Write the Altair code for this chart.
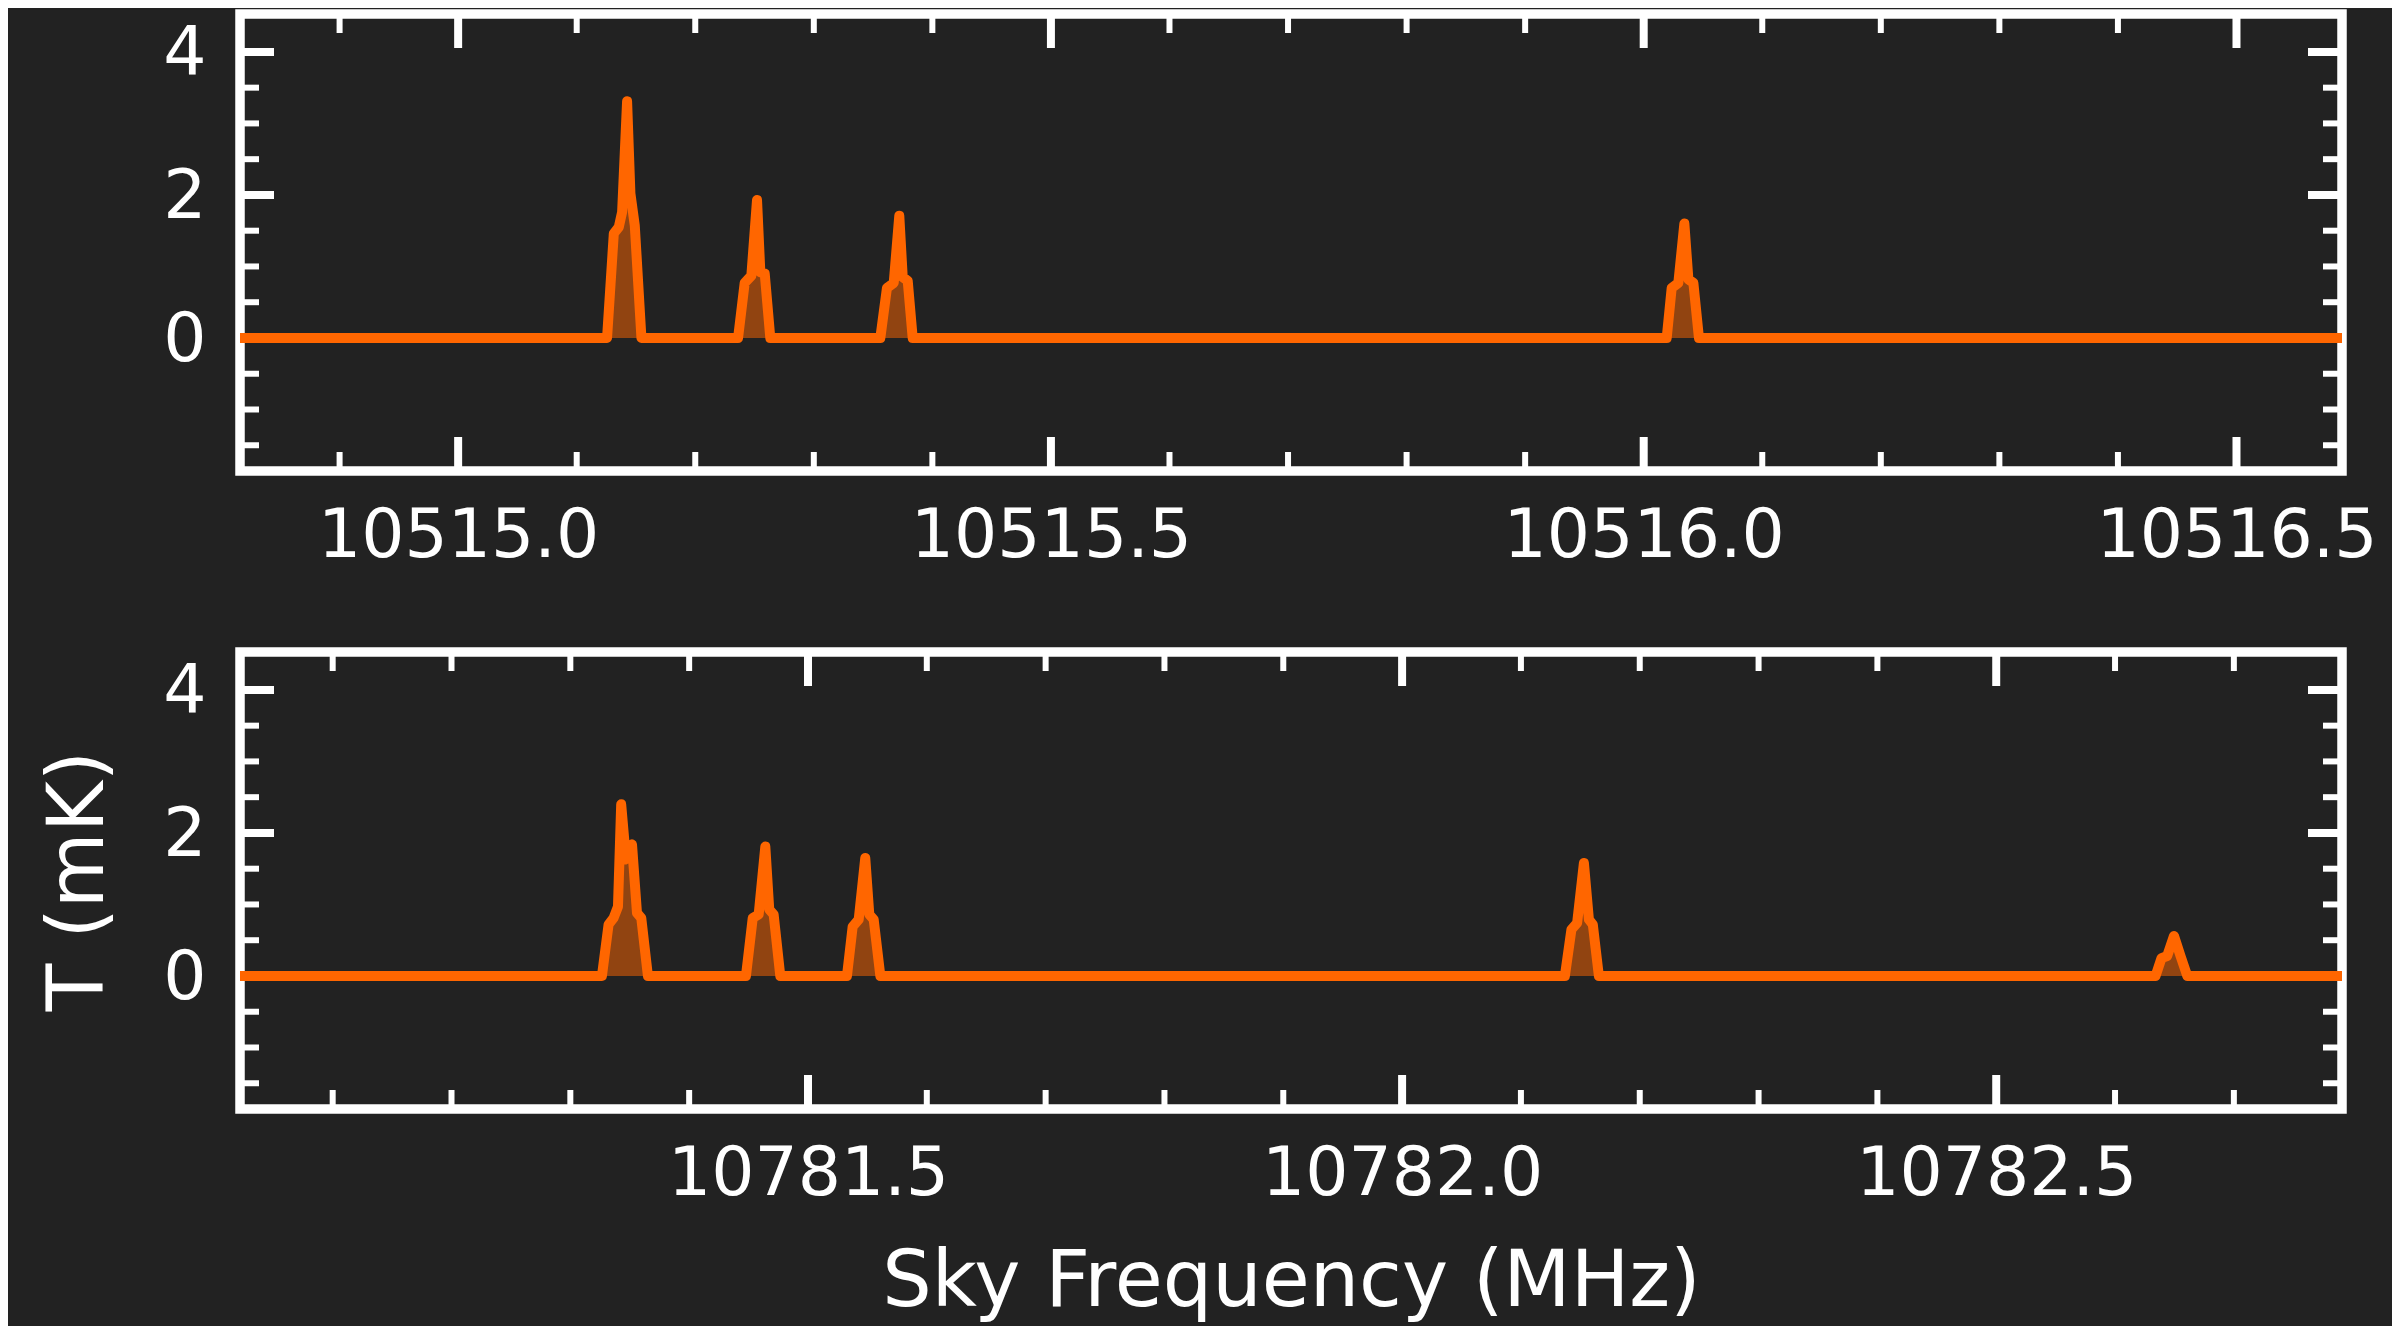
import altair as alt
import pandas as pd

# ---------------- data ----------------
# top panel spectrum (sky frequency in MHz, temperature in mK)
top_freq = [10514.80,
            10515.1256, 10515.1313, 10515.1355, 10515.1383, 10515.1425, 10515.1453, 10515.1490, 10515.1546,
            10515.2361, 10515.2417, 10515.2473, 10515.2521, 10515.2549, 10515.2586, 10515.2633,
            10515.3561, 10515.3617, 10515.3674, 10515.3721, 10515.3750, 10515.3792, 10515.3834,
            10516.0194, 10516.0236, 10516.0292, 10516.0343, 10516.0377, 10516.0419, 10516.0466,
            10516.60]
top_temp = [0.0,
            0.0, 1.46, 1.55, 1.76, 3.31, 2.02, 1.57, 0.0,
            0.0, 0.77, 0.87, 1.93, 0.92, 0.90, 0.0,
            0.0, 0.70, 0.77, 1.71, 0.85, 0.80, 0.0,
            0.0, 0.70, 0.77, 1.60, 0.82, 0.77, 0.0,
            0.0]

# bottom panel spectrum
bot_freq = [10781.00,
            10781.3266, 10781.3322, 10781.3364, 10781.3401, 10781.3428, 10781.3468, 10781.3519, 10781.3561, 10781.3597, 10781.3653,
            10781.4478, 10781.4535, 10781.4585, 10781.4641, 10781.4674, 10781.4711, 10781.4767,
            10781.5328, 10781.5376, 10781.5427, 10781.5482, 10781.5516, 10781.5553, 10781.5609,
            10782.1370, 10782.1425, 10782.1473, 10782.1530, 10782.1572, 10782.1605, 10782.1656,
            10782.6341, 10782.6391, 10782.6439, 10782.6496, 10782.6551, 10782.6608,
            10782.80]
bot_temp = [0.0,
            0.0, 0.72, 0.81, 0.97, 2.40, 1.63, 1.84, 0.88, 0.81, 0.0,
            0.0, 0.81, 0.86, 1.81, 0.93, 0.86, 0.0,
            0.0, 0.69, 0.79, 1.65, 0.86, 0.79, 0.0,
            0.0, 0.65, 0.74, 1.58, 0.79, 0.72, 0.0,
            0.0, 0.25, 0.28, 0.56, 0.28, 0.0,
            0.0]

# axis domains and ticks
top_xdomain = [10514.816, 10516.589]
bot_xdomain = [10781.022, 10782.791]
ydomain = [-1.86, 4.53]

top_major_x = [10515.0, 10515.5, 10516.0, 10516.5]
top_minor_x = [10514.9, 10515.1, 10515.2, 10515.3, 10515.4, 10515.6, 10515.7, 10515.8, 10515.9,
               10516.1, 10516.2, 10516.3, 10516.4]
bot_major_x = [10781.5, 10782.0, 10782.5]
bot_minor_x = [10781.1, 10781.2, 10781.3, 10781.4, 10781.6, 10781.7, 10781.8, 10781.9,
               10782.1, 10782.2, 10782.3, 10782.4, 10782.6, 10782.7]
major_y = [0, 2, 4]
minor_y = [-1.5, -1.0, -0.5, 0.5, 1.0, 1.5, 2.5, 3.0, 3.5]

x_title = "Sky Frequency (MHz)"
y_title = "T (mK)"

# ---------------- styling ----------------
W, H = 2102, 457
LINE = "#ff6600"
BG = "#222222"
MAJ_LEN, MIN_LEN = 34, 19
MAJ_W, MIN_W = 8, 6


def panel(freqs, temps, xdomain, major_x, minor_x, xtitle, ytitle):
    spec = pd.DataFrame({"f": freqs, "T": temps})
    xaxis_kw = dict(values=major_x, format=".1f", labelPadding=31)
    yaxis_kw = dict(values=major_y, format="d", labelPadding=34, titlePadding=44, labelOffset=3)
    if xtitle:
        xaxis_kw["title"] = xtitle
        xaxis_kw["titlePadding"] = 35
    else:
        xaxis_kw["title"] = None
    yaxis_kw["title"] = ytitle if ytitle else None
    x = alt.X("f:Q", scale=alt.Scale(domain=xdomain, nice=False, zero=False),
              axis=alt.Axis(**xaxis_kw))
    y = alt.Y("T:Q", scale=alt.Scale(domain=ydomain, nice=False, zero=False),
              axis=alt.Axis(**yaxis_kw))

    layers = []
    # x ticks (top and bottom, pointing inward)
    for vals, ln, sw in ((major_x, MAJ_LEN, MAJ_W), (minor_x, MIN_LEN, MIN_W)):
        d = pd.DataFrame({"f": vals})
        layers.append(alt.Chart(d).mark_rule(color="white", strokeWidth=sw).encode(
            x=x, y=alt.value(0), y2=alt.value(ln)))
        layers.append(alt.Chart(d).mark_rule(color="white", strokeWidth=sw).encode(
            x=x, y=alt.value(H), y2=alt.value(H - ln)))
    # y ticks (left and right, pointing inward)
    for vals, ln, sw in ((major_y, MAJ_LEN, MAJ_W), (minor_y, MIN_LEN, MIN_W)):
        d = pd.DataFrame({"T": vals})
        layers.append(alt.Chart(d).mark_rule(color="white", strokeWidth=sw).encode(
            y=y, x=alt.value(0), x2=alt.value(ln)))
        layers.append(alt.Chart(d).mark_rule(color="white", strokeWidth=sw).encode(
            y=y, x=alt.value(W), x2=alt.value(W - ln)))

    area = alt.Chart(spec).mark_area(color=LINE, opacity=0.5, clip=True).encode(
        x=x, y=y, y2=alt.datum(0))
    line = alt.Chart(spec).mark_line(color=LINE, strokeWidth=10, strokeJoin="round",
                                     strokeCap="round", clip=True).encode(x=x, y=y)
    layers += [area, line]
    return alt.layer(*layers).properties(width=W, height=H)


top = panel(top_freq, top_temp, top_xdomain, top_major_x, top_minor_x, None, None)
bottom = panel(bot_freq, bot_temp, bot_xdomain, bot_major_x, bot_minor_x, x_title, y_title)

chart = alt.vconcat(top, bottom, spacing=68).properties(
    padding={"left": 27, "top": -3, "right": 10, "bottom": 3}
).configure(background=BG).configure_view(
    stroke="white", strokeWidth=9.5
).configure_axis(
    labelFont="DejaVu Sans", labelFontSize=68, labelColor="white", labelLimit=0,
    titleFont="DejaVu Sans", titleFontSize=78, titleColor="white", titleFontWeight="normal",
    domain=False, ticks=False, tickSize=0, grid=False, labelFlush=False, labelOverlap=False
)

chart.save("out.html", embed_options={"renderer": "svg", "actions": False})
